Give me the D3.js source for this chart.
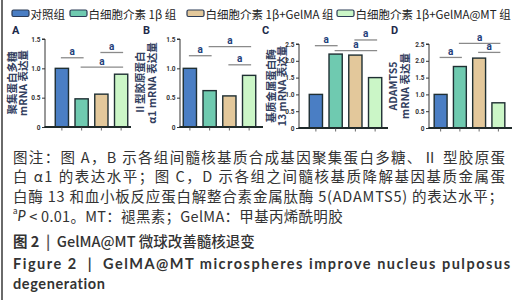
<!DOCTYPE html>
<html><head><meta charset="utf-8">
<script src="https://cdn.jsdelivr.net/npm/d3@7"></script>
<style>body{margin:0;background:#fff} svg{display:block} text{white-space:pre}</style>
</head><body><svg id="c" width="524" height="300"></svg>
<script>
const groups = ["对照组","白细胞介素 1β 组","白细胞介素 1β+GelMA 组","白细胞介素 1β+GelMA@MT 组"];
const colors = ["#4a7ec4","#6fcab0","#e3c89b","#cbf6c7"];
const valuesA = [1.00,0.48,0.56,0.90];
const valuesB = [1.00,0.62,0.53,0.88];
const valuesC = [1.00,2.20,2.17,1.50];
const valuesD = [1.00,1.83,2.08,0.75];
const ticksAB = [0,0.5,1.0,1.5];
const ticksCD = [0,0.5,1.0,1.5,2.0,2.5];
const sigA = [[0,1,1.18],[2,3,1.27],[1,3,1.02]];
const sigB = [[0,1,1.215],[1,3,1.37],[2,3,1.06]];
const sigC = [[0,1,2.45],[1,3,2.30],[2,3,2.62]];
const sigD = [[0,1,2.10],[1,3,2.52],[2,3,2.25]];
const sigLabel = "a";
const ylabA = ["聚集蛋白多糖","mRNA 表达量"];
const ylabB = ["Ⅱ型胶原蛋白","α1 mRNA 表达量"];
const ylabC = ["基质金属蛋白酶","13 mRNA 表达量"];
const ylabD = ["ADAMTS5","mRNA 表达量"];
const captionLines = [
 "图注：图 A，B 示各组间髓核基质合成基因聚集蛋白多糖、Ⅱ 型胶原蛋",
 "白 α1 的表达水平；图 C，D 示各组之间髓核基质降解基因基质金属蛋",
 "白酶 13 和血小板反应蛋白解整合素金属肽酶 5(ADAMTS5) 的表达水平；"
];
const noteLine = ["a","P"," < 0.01。MT：褪黑素；GelMA：甲基丙烯酰明胶"];
const titleCn = ["图 2 "," | "," GelMA@MT 微球改善髓核退变"];
const titleEn = ["Figure 2  |  GelMA@MT microspheres improve nucleus pulposus","degeneration"];

const svg = d3.select("#c");
const CJK = "'Noto Sans CJK SC','Noto Sans',sans-serif";
const LAT = "Lato,'Noto Sans CJK SC',sans-serif";

svg.append("rect").attr("x",1).attr("y",0).attr("width",2).attr("height",300).attr("fill","#6a6a6a");

const legX = [12,70,187,337];
groups.forEach((g,i)=>{
  const lg = svg.append("g");
  lg.append("rect").attr("x",legX[i]).attr("y",10).attr("width",17).attr("height",6.5).attr("rx",1.5)
    .attr("fill",colors[i]).attr("stroke","#2b3a55").attr("stroke-width",1.2);
  lg.append("text").attr("x",legX[i]+18.5).attr("y",13.5).attr("dominant-baseline","central")
    .attr("font-family",CJK).attr("font-size",11.5).attr("fill","#222").text(g);
});

const panels = [
 {id:"A",vals:valuesA,ticks:ticksAB,max:1.5,sig:sigA,lab:ylabA,ax:45,x0:52,x1:131,axEnd:131,yb:127,yt:39,labX:[11,22.5],pl:[12,34]},
 {id:"B",vals:valuesB,ticks:ticksAB,max:1.5,sig:sigB,lab:ylabB,ax:180,x0:180,x1:259,axEnd:263,yb:127,yt:39,labX:[139,151],pl:[143,34]},
 {id:"C",vals:valuesC,ticks:ticksCD,max:2.5,sig:sigC,lab:ylabC,ax:299,x0:306,x1:385,axEnd:388,yb:128,yt:44,labX:[270,281.5],pl:[262,34]},
 {id:"D",vals:valuesD,ticks:ticksCD,max:2.5,sig:sigD,lab:ylabD,ax:429,x0:431,x1:508,axEnd:512,yb:128,yt:44,labX:[392,404],pl:[391,34]}
];

panels.forEach(p=>{
  const g = svg.append("g");
  const y = d3.scaleLinear().domain([0,p.max]).range([p.yb,p.yt]);
  const x = d3.scaleBand().domain(d3.range(4)).range([p.x0,p.x1]).paddingInner(0.33).paddingOuter(0.165);
  g.append("text").attr("x",p.pl[0]).attr("y",p.pl[1]).attr("font-family","Roboto,Arial,sans-serif")
    .attr("font-weight",700).attr("font-size",11).attr("fill","#1c2a4a").text(p.id);
  p.lab.forEach((t,i)=>{
    g.append("text").attr("transform",`translate(${p.labX[i]},${(p.yb+p.yt)/2}) rotate(-90)`)
      .attr("text-anchor","middle").attr("dominant-baseline","central")
      .attr("font-family",CJK).attr("font-weight",700).attr("font-size",10.5).attr("fill","#334060").text(t);
  });
  const ya = g.append("g").attr("transform",`translate(${p.ax},0)`)
    .call(d3.axisLeft(y).tickValues(p.ticks).tickSize(3).tickPadding(1.5).tickFormat(d=>d===0?"0":d3.format(".1f")(d)));
  ya.select(".domain").attr("stroke","#333").attr("stroke-width",1).attr("d",`M-3,${y(p.max)}H0V${p.yb}`);
  ya.selectAll(".tick line").attr("stroke","#333");
  ya.selectAll("text").attr("font-family","Roboto,Arial,sans-serif").attr("font-size",6.5).attr("font-weight",700).attr("fill","#333");
  g.selectAll("rect.bar").data(p.vals).join("rect").attr("class","bar")
    .attr("x",(d,i)=>x(i)).attr("width",x.bandwidth())
    .attr("y",d=>y(d)).attr("height",d=>p.yb-y(d))
    .attr("fill",(d,i)=>colors[i]).attr("stroke","#1f2f33").attr("stroke-width",1.4);
  g.append("line").attr("x1",p.ax-0.5).attr("x2",p.axEnd).attr("y1",p.yb).attr("y2",p.yb).attr("stroke","#1f2a2a").attr("stroke-width",2.2);
  g.selectAll("line.xt").data(d3.range(4)).join("line").attr("class","xt")
    .attr("x1",i=>x(i)+x.bandwidth()/2).attr("x2",i=>x(i)+x.bandwidth()/2)
    .attr("y1",p.yb).attr("y2",p.yb+3.5).attr("stroke","#444").attr("stroke-width",0.8);
  p.sig.forEach(s=>{
    const xa = x(s[0])+x.bandwidth()/2-1, xb = x(s[1])+x.bandwidth()/2+2;
    g.append("line").attr("x1",xa).attr("x2",xb).attr("y1",y(s[2])).attr("y2",y(s[2]))
      .attr("stroke","#8a8a8a").attr("stroke-width",1.3);
    g.append("text").attr("x",(xa+xb)/2).attr("y",y(s[2])-2.5).attr("text-anchor","middle")
      .attr("font-family","Roboto,Arial,sans-serif").attr("font-weight",700).attr("font-size",10)
      .attr("fill","#23407a").text(sigLabel);
  });
});

const capY = [156.5,175.7,195];
captionLines.forEach((t,i)=>{
  svg.append("text").attr("x",13).attr("y",capY[i]).attr("dominant-baseline","central")
    .attr("font-family",CJK).attr("font-size",14.5).attr("fill","#333")
    .attr("textLength",i===2?490:492).attr("lengthAdjust","spacing").text(t);
});
const nl = svg.append("text").attr("x",13).attr("y",214.5).attr("dominant-baseline","central")
  .attr("font-family",CJK).attr("font-size",14.5).attr("fill","#333");
nl.append("tspan").attr("font-size",9).attr("dy",-5).attr("font-family",LAT).text(noteLine[0]);
nl.append("tspan").attr("dy",5).attr("font-style","italic").attr("font-family",LAT).text(noteLine[1]);
nl.append("tspan").attr("letter-spacing",0.3).text(noteLine[2]);

const tc = svg.append("text").attr("x",13).attr("y",240).attr("dominant-baseline","central")
  .attr("font-family",CJK).attr("font-size",14.5).attr("fill","#333");
tc.append("tspan").attr("font-weight",700).text(titleCn[0]);
tc.append("tspan").attr("font-weight",700).attr("fill","#555").text(titleCn[1]);
tc.append("tspan").attr("font-weight",500).text(titleCn[2]);

svg.append("text").attr("x",13).attr("y",263.3).attr("dominant-baseline","central")
  .attr("font-family",LAT).attr("font-weight",700).attr("font-size",14.5).attr("fill","#333")
  .attr("textLength",497).attr("lengthAdjust","spacing").text(titleEn[0]);
svg.append("text").attr("x",13).attr("y",283.3).attr("dominant-baseline","central")
  .attr("font-family",LAT).attr("font-weight",700).attr("font-size",14.5).attr("fill","#333")
  .attr("letter-spacing",0.6).text(titleEn[1]);
</script></body></html>
